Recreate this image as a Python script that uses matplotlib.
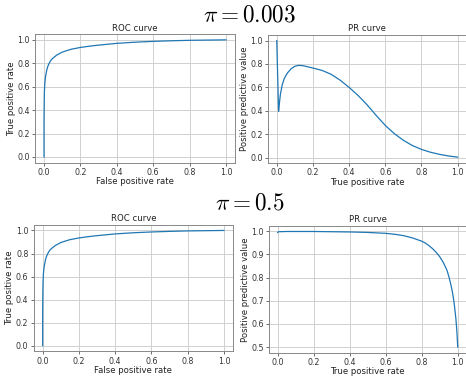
import matplotlib
matplotlib.use("Agg")
import matplotlib.pyplot as plt

# ROC curve (same classifier for both priors)
roc_fpr = [0.0, 0.0, 0.001, 0.002, 0.004, 0.007, 0.01, 0.015, 0.02, 0.03, 0.04, 0.05, 0.07, 0.1,
           0.125, 0.15, 0.2, 0.25, 0.3, 0.4, 0.5, 0.6, 0.7, 0.8, 0.9, 1.0]
roc_tpr = [0.0, 0.3, 0.45, 0.55, 0.62, 0.67, 0.70, 0.74, 0.77, 0.805, 0.83, 0.845, 0.87, 0.895,
           0.908, 0.92, 0.935, 0.946, 0.955, 0.97, 0.98, 0.987, 0.992, 0.996, 0.998, 1.0]

# PR curve, pi = 0.003
pr1_tpr = [0.0, 0.01, 0.015, 0.02, 0.03, 0.04, 0.05, 0.06, 0.08, 0.1, 0.12, 0.14, 0.16, 0.2,
           0.25, 0.3, 0.35, 0.4, 0.45, 0.5, 0.55, 0.6, 0.65, 0.7, 0.75, 0.8, 0.85, 0.9, 0.95, 1.0]
pr1_ppv = [1.0, 0.395, 0.47, 0.54, 0.62, 0.67, 0.70, 0.725, 0.76, 0.78, 0.788, 0.786, 0.78, 0.765,
           0.745, 0.712, 0.662, 0.60, 0.53, 0.45, 0.36, 0.275, 0.205, 0.148, 0.103, 0.07, 0.046,
           0.028, 0.014, 0.004]

# PR curve, pi = 0.5
pr2_tpr = [0.0, 0.005, 0.05, 0.2, 0.4, 0.5, 0.6, 0.65, 0.7, 0.75, 0.8, 0.82, 0.84, 0.86, 0.88,
           0.9, 0.92, 0.94, 0.95, 0.96, 0.97, 0.98, 0.99, 0.995, 1.0]
pr2_ppv = [0.995, 0.998, 0.999, 0.999, 0.997, 0.995, 0.991, 0.987, 0.981, 0.971, 0.957, 0.949,
           0.938, 0.925, 0.909, 0.89, 0.865, 0.832, 0.806, 0.776, 0.74, 0.69, 0.62, 0.57, 0.5]

titles = [r"$\pi = 0.003$", r"$\pi = 0.5$"]

plt.rcParams['mathtext.fontset'] = 'cm'
plt.rcParams['font.family'] = 'DejaVu Sans'

fig = plt.figure(figsize=(4.66, 3.76), dpi=100)

lab_fs = 6.1
tick_fs = 5.7
line_c = '#1f77b4'

def style(ax, title, xlabel, ylabel):
    ax.set_title(title, fontsize=lab_fs, pad=2.5, color='#222222')
    ax.set_xlabel(xlabel, fontsize=lab_fs, labelpad=0.3, color='#222222')
    ax.set_ylabel(ylabel, fontsize=lab_fs, labelpad=1, color='#222222')
    ax.tick_params(labelsize=tick_fs, length=2.5, width=0.6, pad=1.2, color='#555555',
                   labelcolor='#333333')
    ax.grid(True, color='#d0d0d0', linewidth=0.7)
    for s in ax.spines.values():
        s.set_color('#888888')
        s.set_linewidth(0.7)

ax1 = fig.add_axes([0.0749, 0.567, 0.4296, 0.3426])
ax1.plot(roc_fpr, roc_tpr, color=line_c, lw=0.9)
style(ax1, "ROC curve", "False positive rate", "True positive rate")

ax2 = fig.add_axes([0.5745, 0.5665, 0.427, 0.3412])
ax2.plot(pr1_tpr, pr1_ppv, color=line_c, lw=0.9)
style(ax2, "PR curve", "True positive rate", "Positive predictive value")

ax3 = fig.add_axes([0.0721, 0.0652, 0.4279, 0.3372])
ax3.plot(roc_fpr, roc_tpr, color=line_c, lw=0.9)
style(ax3, "ROC curve", "False positive rate", "True positive rate")

ax4 = fig.add_axes([0.5766, 0.0615, 0.425, 0.3382])
ax4.plot(pr2_tpr, pr2_ppv, color=line_c, lw=0.9)
style(ax4, "PR curve", "True positive rate", "Positive predictive value")

fig.text(0.536, 1 - 15.5/376, titles[0], fontsize=16.7, ha='center', va='center')
fig.text(0.536, 1 - 203/376, titles[1], fontsize=16.7, ha='center', va='center')

fig.savefig("out.png", dpi=100)
